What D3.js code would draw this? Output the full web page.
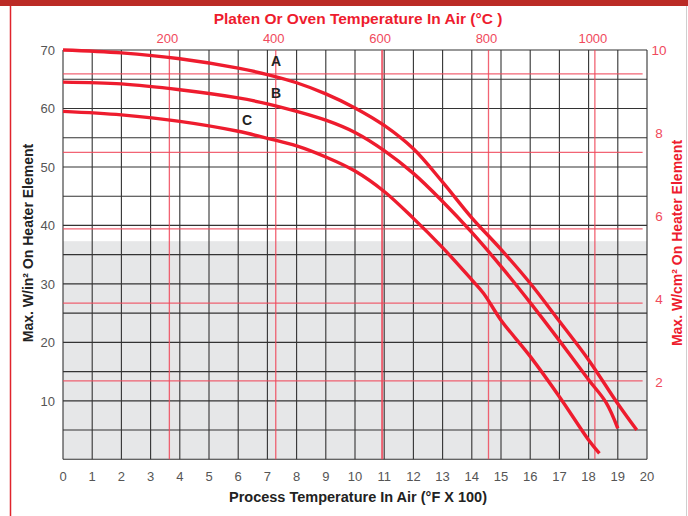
<!DOCTYPE html>
<html>
<head>
<meta charset="utf-8">
<script src="https://cdn.jsdelivr.net/npm/d3@7"></script>
<style>
  body { margin: 0; background: #fff; }
  svg { display: block; font-family: "Liberation Sans", Arial, sans-serif; }
</style>
</head>
<body>
<div id="chart"></div>
<script>
var width = 688
var height = 516

// curves: [°F x 100, W/in²]
var curveA = [[0,70.0],[2,69.5],[4,68.5],[6,66.9],[7,65.8],[8,64.4],[9,62.5],[10,60.1],[11,57.1],[12,53.1],[13,47.4],[14,41.3],[15,35.9],[16,30.1],[17,23.6],[18,17.0],[19,9.5],[19.65,5.0]]
var curveB = [[0,64.5],[2,64.2],[4,63.2],[6,61.8],[7,60.8],[8,59.5],[9,58.0],[10,55.9],[11,52.8],[12,48.9],[13,44.1],[14,38.8],[15,33.0],[16,26.8],[17,20.3],[18,13.6],[18.6,9.7],[19.0,5.3]]
var curveC = [[0,59.5],[2,58.9],[4,57.8],[6,56.1],[7,54.9],[8,53.6],[9,51.7],[10,49.3],[11,45.8],[12,41.2],[13,36.2],[14,30.7],[14.4,28.4],[15,23.8],[16,17.6],[17,10.7],[18,3.3],[18.37,1.0]]
var curveNames = ['A','B','C']
var labelPos = [[7.3,67.3],[7.3,61.8],[6.3,57.1]]

var xTicks = d3.range(0, 21)
var yTicks = [10,20,30,40,50,60,70]
var yGrid = d3.range(0, 71, 5)
var cTicks = [200,400,600,800,1000]
var cmTicks = [2,4,6,8,10]
var cmLinesIn2 = [13.4,26.7,39.4,52.5,65.9]  // where the W/cm² red lines sit on the W/in² scale
var shadeTop = 37.3

var red = '#ee1c2e'
var pink = '#f04a5c'

var svg = d3.select('#chart').append('svg')
  .attr('width', width).attr('height', height)

var x = d3.scaleLinear().domain([0,20]).range([63,647])
var y = d3.scaleLinear().domain([0,70]).range([459.3,50])
var xC = d3.scaleLinear().domain([0,1098]).range([63,647])
var yCm = d3.scaleLinear().domain([2,10]).range([382,50])

// frame
svg.append('rect').attr('x',0).attr('y',0).attr('width',width).attr('height',6).attr('fill','#bb2b26')
svg.append('line').attr('x1',10.5).attr('x2',10.5).attr('y1',6).attr('y2',height)
  .attr('stroke','#e0242c').attr('stroke-width',1.5)
svg.append('line').attr('x1',686.5).attr('x2',686.5).attr('y1',6).attr('y2',height)
  .attr('stroke','#cfcfcf').attr('stroke-width',1)

// gray zone
svg.append('rect')
  .attr('x', x(0)).attr('y', y(shadeTop))
  .attr('width', x(20) - x(0)).attr('height', y(0) - y(shadeTop))
  .attr('fill', '#e6e7e8')

// black grid
svg.append('g').selectAll('line').data(xTicks).enter().append('line')
  .attr('x1', d => x(d)).attr('x2', d => x(d))
  .attr('y1', y(70)).attr('y2', y(0))
  .attr('stroke', '#333').attr('stroke-width', 1.1)
svg.append('g').selectAll('line').data(yGrid).enter().append('line')
  .attr('x1', x(0)).attr('x2', x(20))
  .attr('y1', d => y(d)).attr('y2', d => y(d))
  .attr('stroke', '#333').attr('stroke-width', 1.1)

// red grid (°C verticals, W/cm² horizontals)
svg.append('g').selectAll('line').data(cTicks).enter().append('line')
  .attr('x1', d => xC(d)).attr('x2', d => xC(d))
  .attr('y1', y(70)).attr('y2', y(0))
  .attr('stroke', pink).attr('stroke-width', d => d == 600 ? 2 : 1.3).attr('opacity', 0.85)
svg.append('g').selectAll('line').data(cmLinesIn2).enter().append('line')
  .attr('x1', x(0)).attr('x2', x(19.85))
  .attr('y1', d => y(d)).attr('y2', d => y(d))
  .attr('stroke', pink).attr('stroke-width', 1.3).attr('opacity', 0.85)

// curves
var line = d3.line().x(d => x(d[0])).y(d => y(d[1])).curve(d3.curveCatmullRom.alpha(0.5))
svg.append('g').selectAll('path').data([curveA, curveB, curveC]).enter().append('path')
  .attr('d', line)
  .attr('fill', 'none').attr('stroke', red).attr('stroke-width', 3.4)
  .attr('stroke-linecap', 'butt')

svg.append('g').selectAll('text').data(curveNames).enter().append('text')
  .attr('x', (d,i) => x(labelPos[i][0]))
  .attr('y', (d,i) => y(labelPos[i][1]))
  .attr('text-anchor', 'middle')
  .attr('font-size', 14).attr('font-weight', 'bold').attr('fill', '#222')
  .text(d => d)

// tick labels
svg.append('g').selectAll('text').data(xTicks).enter().append('text')
  .attr('x', d => x(d)).attr('y', 481)
  .attr('text-anchor', 'middle').attr('font-size', 13).attr('fill', '#555')
  .text(d => d)
svg.append('g').selectAll('text').data(yTicks).enter().append('text')
  .attr('x', 55).attr('y', d => y(d) + 5)
  .attr('text-anchor', 'end').attr('font-size', 13).attr('fill', '#555')
  .text(d => d)
svg.append('g').selectAll('text').data(cTicks).enter().append('text')
  .attr('x', d => xC(d) - 2).attr('y', 43)
  .attr('text-anchor', 'middle').attr('font-size', 13).attr('fill', pink)
  .text(d => d)
svg.append('g').selectAll('text').data(cmTicks).enter().append('text')
  .attr('x', 659).attr('y', d => yCm(d) + 5)
  .attr('text-anchor', 'middle').attr('font-size', 13.5).attr('fill', pink)
  .text(d => d)

// axis titles
svg.append('text')
  .attr('x', 358).attr('y', 24)
  .attr('text-anchor', 'middle').attr('font-size', 15.5).attr('font-weight', 'bold').attr('fill', red)
  .text('Platen Or Oven Temperature In Air (°C )')
svg.append('text')
  .attr('x', 358).attr('y', 502)
  .attr('text-anchor', 'middle').attr('font-size', 14.5).attr('font-weight', 'bold').attr('fill', '#222')
  .text('Process Temperature In Air (°F X 100)')
svg.append('text')
  .attr('transform', 'translate(33,243) rotate(-90)')
  .attr('text-anchor', 'middle').attr('font-size', 14).attr('font-weight', 'bold').attr('fill', '#222')
  .text('Max. W/in² On Heater Element')
svg.append('text')
  .attr('transform', 'translate(682,243) rotate(-90)')
  .attr('text-anchor', 'middle').attr('font-size', 14).attr('font-weight', 'bold').attr('fill', red)
  .text('Max. W/cm² On Heater Element')
</script>
</body>
</html>
